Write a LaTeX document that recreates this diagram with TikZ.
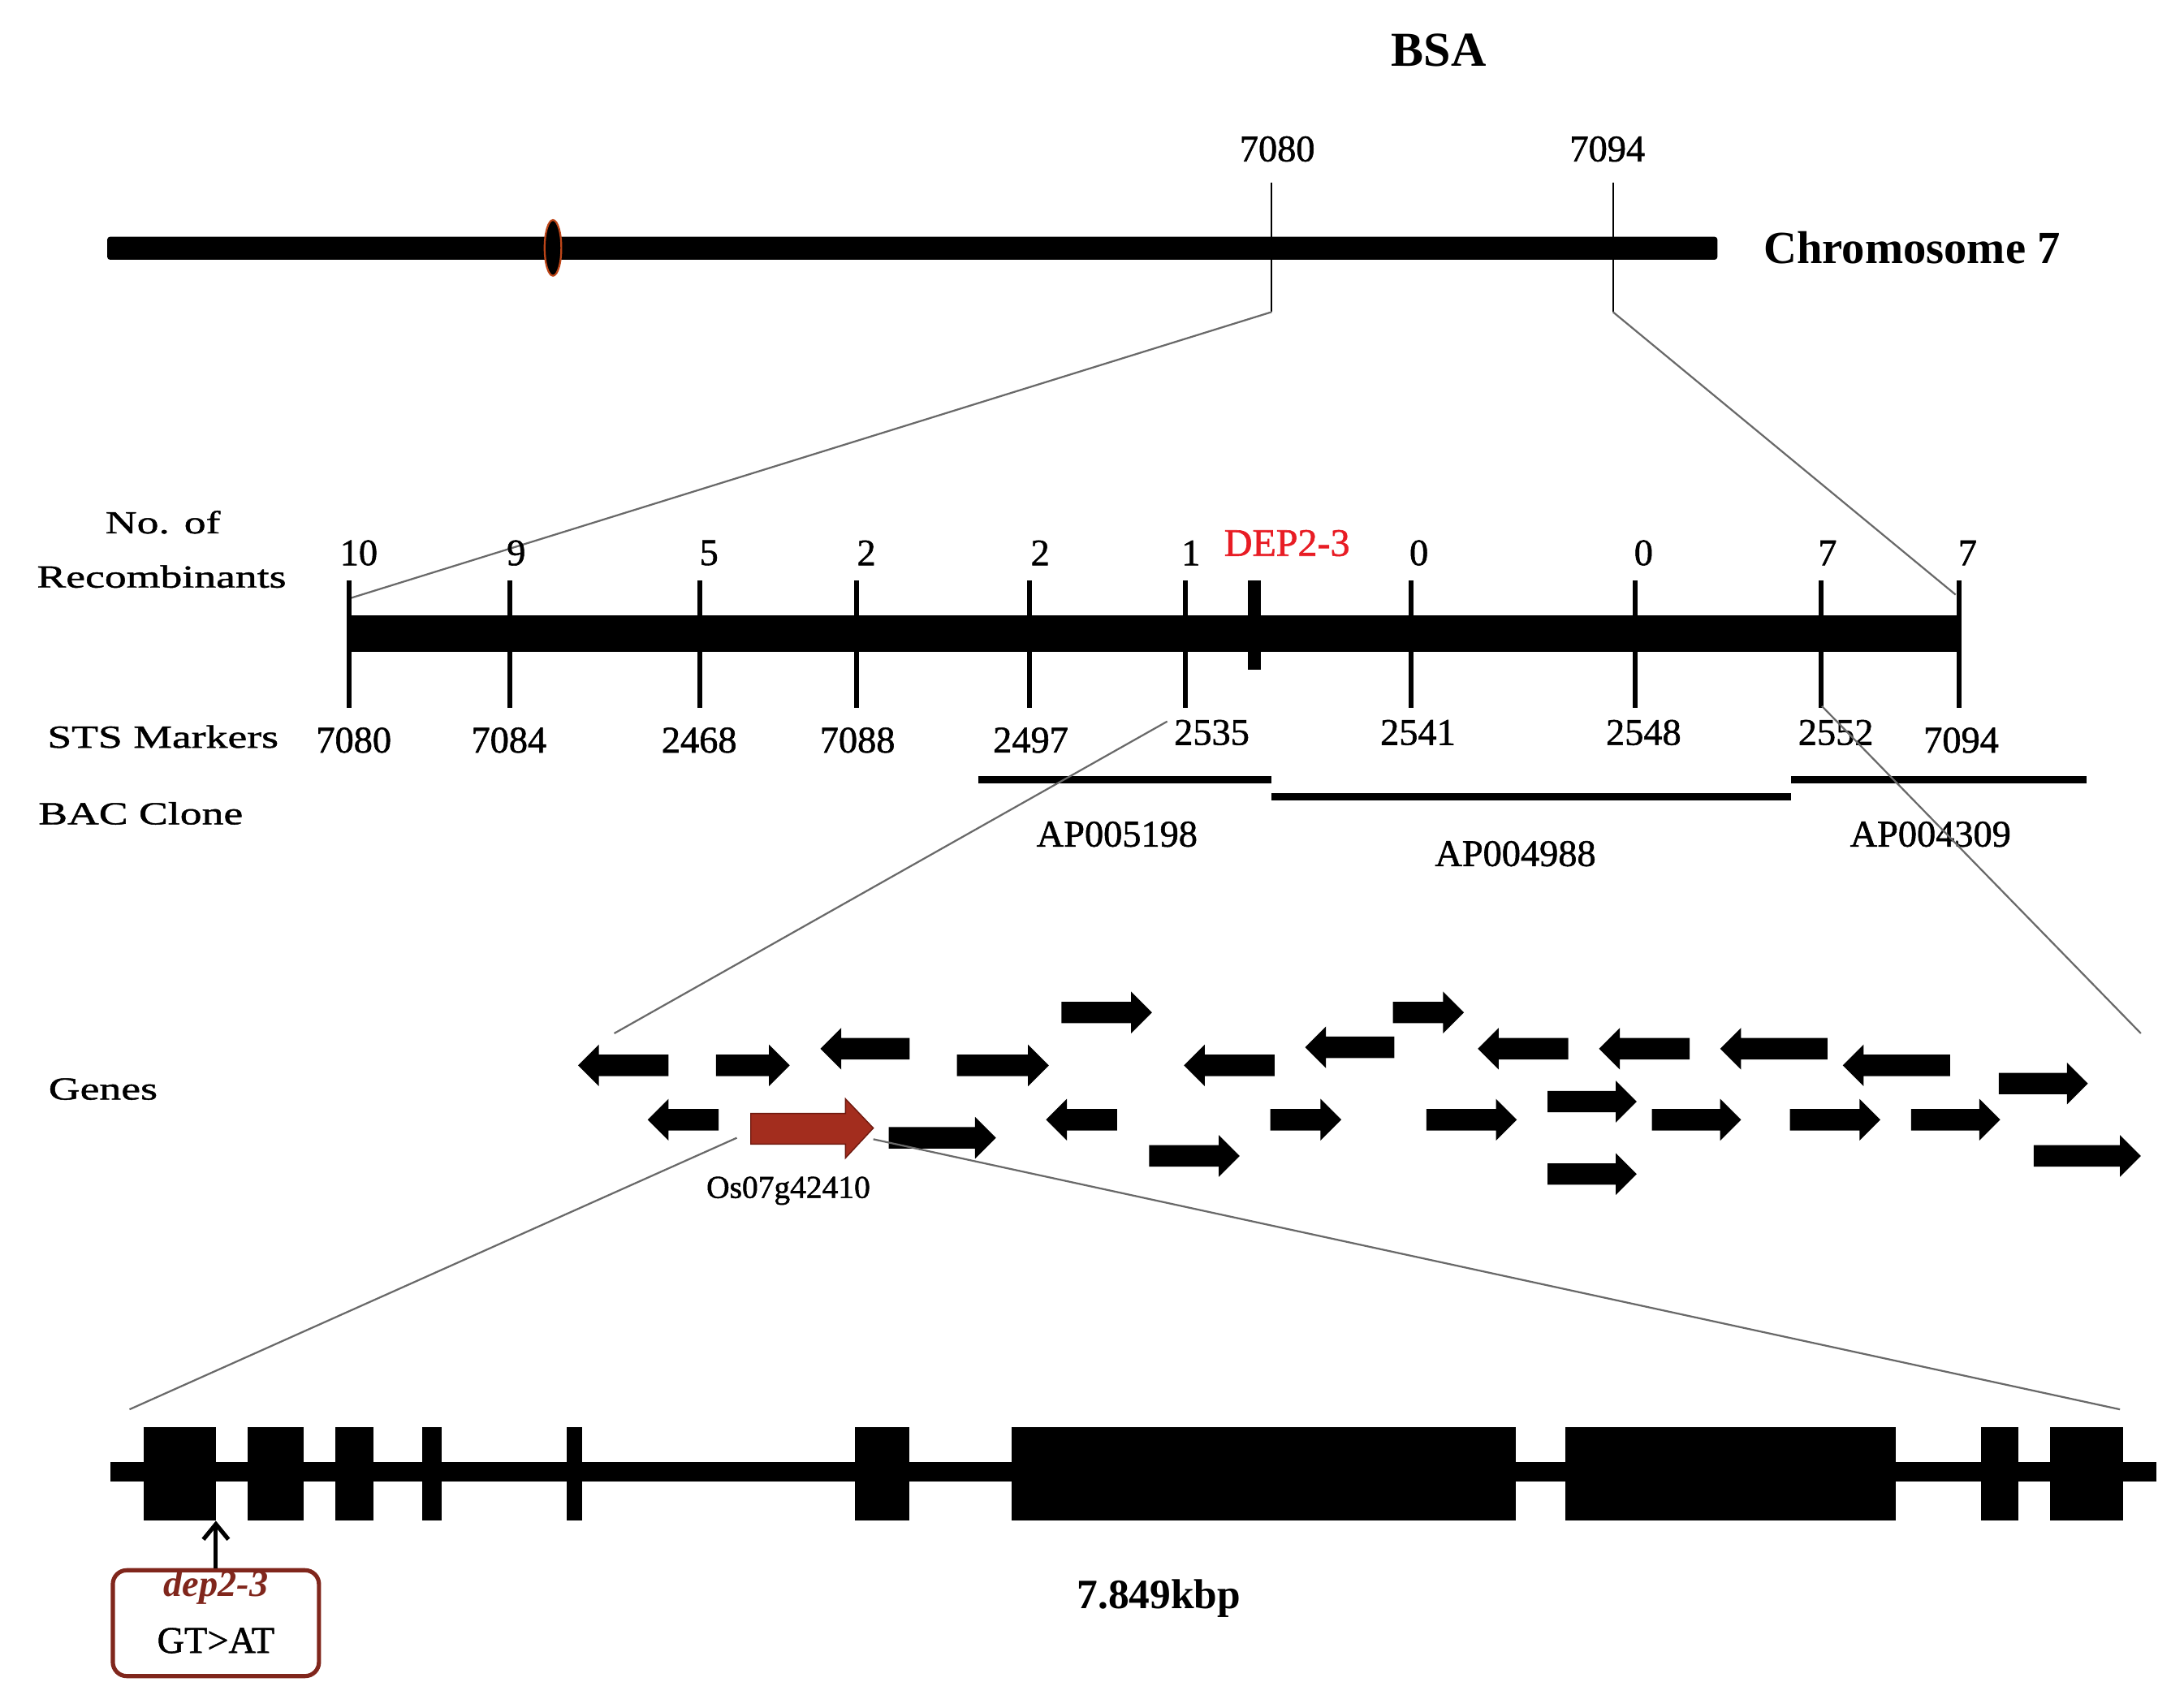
\documentclass[tikz,border=0pt]{standalone}
\usepackage{fontspec}
\setmainfont{Liberation Serif}
\newfontfamily\heavyfont[FakeBold=1.2]{Liberation Serif}
\newfontfamily\widefont[FakeStretch=1.36,FakeBold=1.2]{Liberation Serif}
\usetikzlibrary{arrows.meta}
\definecolor{genered}{RGB}{163,45,30}
\definecolor{generedline}{RGB}{110,25,15}
\definecolor{depred}{RGB}{232,28,36}
\definecolor{boxred}{RGB}{128,38,28}
\definecolor{cenline}{RGB}{190,70,25}
\definecolor{zoomline}{RGB}{105,105,105}
\newcommand\fs[1]{\fontsize{#1}{#1}\selectfont}
\tikzset{
  num/.style={font=\heavyfont\fs{27}, inner sep=0pt},
  lab/.style={font=\widefont\fs{23}, inner sep=0pt},
  zoomln/.style={draw=zoomline, line width=1.3pt},
  ticko/.style={line width=3.5pt},
  bac/.style={line width=5pt},
  thinv/.style={line width=1.3pt},
}
% right / left pointing gene arrows: x1, x2, y
\newcommand\rgene[3]{\fill (#1,#3-7.7) -- (#2-15,#3-7.7) -- (#2-15,#3-15) -- (#2,#3) -- (#2-15,#3+15) -- (#2-15,#3+7.7) -- (#1,#3+7.7) -- cycle;}
\newcommand\lgene[3]{\fill (#2,#3-7.7) -- (#1+15,#3-7.7) -- (#1+15,#3-15) -- (#1,#3) -- (#1+15,#3+15) -- (#1+15,#3+7.7) -- (#2,#3+7.7) -- cycle;}
\begin{document}
\begin{tikzpicture}[x=1pt,y=-1pt]
\useasboundingbox (0,0) rectangle (1568,1226);
\fill[white] (0,0) rectangle (1568,1226);

% ---------- title ----------
\node[font=\bfseries\fs{35}, inner sep=0pt] (bsa) at (1033,36) {BSA};

% ---------- chromosome ----------
\fill[rounded corners=2pt] (77,170) rectangle (1233,186.5);
\filldraw[fill=black, draw=cenline, line width=1.3pt] (397,178) ellipse [x radius=6, y radius=20];
\node[font=\bfseries\fs{33}, anchor=west, inner sep=0pt] (chr) at (1266,178) {Chromosome 7};
\node[num] (t7080) at (917,107) {7080};
\node[num] (t7094) at (1154,107) {7094};
\coordinate (c1a) at (913,131);
\coordinate (c1b) at (913,224);
\coordinate (c2a) at (1158,131);
\coordinate (c2b) at (1158,224);
\draw[thinv] (c1a) -- (c1b);
\draw[thinv] (c2a) -- (c2b);

% ---------- fine map ----------
\coordinate (b2l) at (250,430);
\coordinate (b2r) at (1404,427);
\draw[zoomln] (c1b) -- (b2l);
\draw[zoomln] (c2b) -- (b2r);

\node[lab] (noof) at (117,375) {No. of};
\node[lab] (recomb) at (116,414) {Recombinants};
\node[lab] (sts) at (117,529) {STS Markers};
\node[lab] (bacl) at (101,584) {BAC Clone};
\node[lab] (genes) at (74,782) {Genes};

\fill (250,442) rectangle (1407,468);
\foreach \x in {250.7,365.9,502.2,615,739,850.8,1013,1174,1307.6,1406.8}
  \draw[ticko] (\x,417) -- (\x,508);
\fill (896,417) rectangle (905,481);

\foreach \x/\t [count=\i] in {257.6/10,370.6/9,509/5,622/2,746.8/2,855/1,1018.7/0,1180/0,1312/7,1412.6/7}
  \node[num] (rc\i) at (\x,397) {\t};
\node[font=\heavyfont\fs{28}, text=depred, inner sep=0pt] (dep) at (924,390) {DEP2-3};

\foreach \x/\y/\t [count=\i] in {254/531.5/7080,365.4/531.5/7084,502/531.5/2468,615.6/531.5/7088,740/531.5/2497,870/526/2535,1018/526/2541,1180/526/2548,1318/526/2552,1408/531.5/7094}
  \node[num] (sm\i) at (\x,\y) {\t};

\draw[bac] (702.5,560) -- (913,560);
\draw[bac] (913,572) -- (1286,572);
\draw[bac] (1286,560) -- (1498,560);
\node[num] (ap1) at (802,599) {AP005198};
\node[num] (ap2) at (1088,613) {AP004988};
\node[num] (ap3) at (1386,599) {AP004309};

% ---------- genes ----------
\coordinate (g1a) at (838,518);
\coordinate (g1b) at (441,742);
\coordinate (g2a) at (1308,507);
\coordinate (g2b) at (1537,742);
\draw[zoomln] (g1a) -- (g1b);
\draw[zoomln] (g2a) -- (g2b);

\lgene{415}{480}{765}
\lgene{589}{653}{753}
\lgene{850}{915}{765}
\lgene{937}{1001}{752}
\lgene{1061}{1126}{753}
\lgene{1148}{1213}{753}
\lgene{1235}{1312}{753}
\lgene{1323}{1400}{765}
\lgene{465}{516}{804}
\lgene{751}{802}{804}
\rgene{514}{567}{765}
\rgene{687}{753}{765}
\rgene{762}{827}{727}
\rgene{1000}{1051}{727}
\rgene{1435}{1499}{778}
\rgene{638}{715}{817}
\rgene{825}{890}{830}
\rgene{912}{963}{804}
\rgene{1024}{1089}{804}
\rgene{1111}{1175}{791}
\rgene{1111}{1175}{843}
\rgene{1186}{1250}{804}
\rgene{1285}{1350}{804}
\rgene{1372}{1436}{804}
\rgene{1460}{1537}{830}
\filldraw[fill=genered, draw=generedline, line width=0.8pt]
  (539,799.5) -- (607,799.5) -- (607,789) -- (627,810) -- (607,831.5) -- (607,821.5) -- (539,821.5) -- cycle;
\node[font=\heavyfont\fs{23}, inner sep=0pt] (osg) at (566,855) {Os07g42410};

% ---------- gene structure ----------
\coordinate (s1a) at (529,817);
\coordinate (s1b) at (93,1012);
\coordinate (s2a) at (627,818);
\coordinate (s2b) at (1522,1012);
\draw[zoomln] (s1a) -- (s1b);
\draw[zoomln] (s2a) -- (s2b);

\fill (79,1050) rectangle (1548,1064);
\foreach \a/\b in {103/155,178/218,241/268,303/317,407/418,614/653,726/1088,1124/1361,1422/1449,1472/1524}
  \fill (\a,1025) rectangle (\b,1092);

\coordinate (mutsite) at (155,1092);
\node[draw=boxred, line width=3pt, rounded corners=10pt, minimum width=148pt, minimum height=76pt, inner sep=0pt] (mut) at (155,1165.5) {};
\node[font=\bfseries\itshape\fs{27}, text=boxred, inner sep=0pt] (mutname) at (155,1140) {dep2-3};
\node[font=\heavyfont\fs{27}, inner sep=0pt] (mutchg) at (155,1178) {GT>AT};
\draw[line width=3pt, -{Straight Barb[length=11pt,width=18pt,line width=3pt]}] (mut.north) -- (mutsite);

\node[font=\bfseries\fs{30}, inner sep=0pt] (len) at (832,1148) {7.849kbp};
\end{tikzpicture}
\end{document}
